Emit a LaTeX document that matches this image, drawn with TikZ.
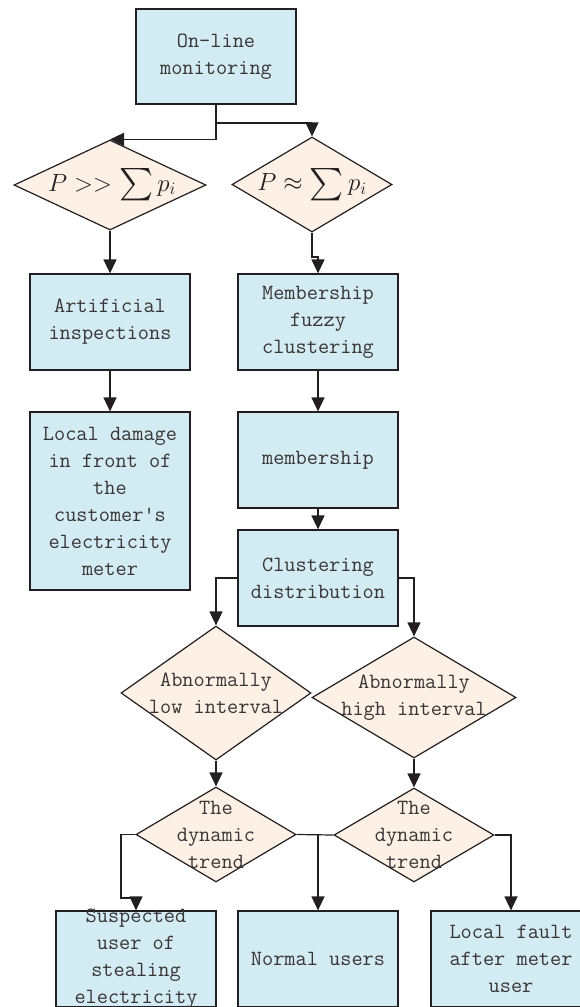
\documentclass[tikz,border=0pt]{standalone}
\usepackage{exscale}
\usepackage{graphicx}
\usetikzlibrary{shapes.geometric,arrows.meta}
\definecolor{boxblue}{RGB}{211,235,242}
\definecolor{diafill}{RGB}{253,240,229}
\definecolor{ink}{RGB}{35,31,32}
\newcommand{\bigsumsym}{\mathop{\vcenter{\hbox{\scalebox{1.3}{$\sum$}}}}}
\begin{document}
\begin{tikzpicture}[x=1pt,y=-1pt,
  every node/.style={inner sep=0pt},
  box/.style={draw=ink, fill=boxblue, line width=1.2pt, minimum width=160, minimum height=96, align=center},
  dia/.style={draw=ink, fill=diafill, line width=1.2pt, shape=diamond},
  txt/.style={align=center, text=ink!90, font=\ttfamily\fontsize{21.7}{27}\selectfont},
  mathtxt/.style={text=ink, font=\fontsize{25}{30}\selectfont},
  arr/.style={draw=ink, line width=1.2pt, -{Triangle[length=14pt,width=13pt]}},
  ln/.style={draw=ink, line width=1.2pt}]
\useasboundingbox (0,0) rectangle (580,1007);
\clip (0,0) rectangle (580,1007);
% boxes
\node[box, minimum height=95] (mon) at (216,56.5) {};
\node[txt] at (mon) {On-line\\monitoring};
\node[dia, minimum width=192, minimum height=90] (d1) at (110,185) {};
\node[mathtxt] at (112,185) {$P>>\bigsumsym p_i$};
\node[dia, minimum width=160, minimum height=95] (d2) at (312,184.5) {};
\node[mathtxt] at (312,184.5) {$P\approx\bigsumsym p_i$};
\node[box] (art) at (110,322) {};
\node[txt] at (art) {Artificial\\inspections};
\node[box] (mfc) at (318,322) {};
\node[txt] at (mfc) {Membership\\fuzzy\\clustering};
\node[box, minimum height=178] (loc) at (110,501) {};
\node[txt] at (loc) {Local damage\\in front of\\the\\customer's\\electricity\\meter};
\node[box] (mem) at (318,460) {};
\node[txt] at (mem) {membership};
\node[box] (clu) at (318,578) {};
\node[txt] at (clu) {Clustering\\distribution};
\node[dia, minimum width=190, minimum height=134] (low) at (216,693) {};
\node[txt] at (216,693) {Abnormally\\low interval};
\node[dia, minimum width=204, minimum height=121] (high) at (414,697.5) {};
\node[txt] at (414,697.5) {Abnormally\\high interval};
\node[dia, minimum width=160, minimum height=95] (dt1) at (216,834.5) {};
\node[txt] at (dt1) {The\\dynamic\\trend};
\node[dia, minimum width=160, minimum height=94] (dt2) at (414,835) {};
\node[txt] at (dt2) {The\\dynamic\\trend};
\node[box] (sus) at (136,959) {};
\node[txt] at (sus) {Suspected\\user of\\stealing\\electricity};
\node[box] (nor) at (318,959) {};
\node[txt] at (nor) {Normal users};
\node[box] (lf) at (511,959) {};
\node[txt] at (lf) {Local fault\\after meter\\user};
% junctions
\coordinate (j1) at (216,123);
\coordinate (j2) at (312,257);
\coordinate (j3) at (121,898);
\coordinate (j4) at (318,834.5);
% connectors
\draw[arr] (mon.south) -- (j1) -| (d2.north);
\draw[arr] (mon.south) |- (d1.north);
\draw[arr] (d1.south) -- (art.north);
\draw[arr] (d2.south) -- (j2) -| (mfc.north);
\draw[arr] (art.south) -- (loc.north);
\draw[arr] (mfc.south) -- (mem.north);
\draw[arr] (mem.south) -- (clu.north);
\draw[arr] (clu.west) -| (low.north);
\draw[arr] (clu.east) -| (high.north);
\draw[arr] (low.south) -- (dt1.north);
\draw[arr] (high.south) -- (dt2.north);
\draw[arr] (dt1.west) -| (j3) -| (sus.north);
\draw[ln] (dt1.east) -- (dt2.west);
\draw[arr] (j4) -- (nor.north);
\draw[arr] (dt2.east) -| (lf.north);
\end{tikzpicture}
\end{document}
